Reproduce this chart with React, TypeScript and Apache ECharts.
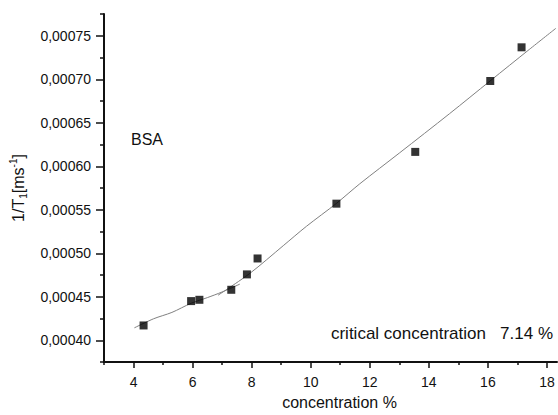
import React, { useEffect, useRef } from "react";
import * as echarts from "echarts";

// Measured points
const concentration = [4.34, 5.95, 6.23, 7.31, 7.84, 8.2, 10.87, 13.54, 16.08, 17.14];
const invT1 = [0.000417, 0.000445, 0.0004465, 0.000458, 0.0004757, 0.000494, 0.000557, 0.0006165, 0.000698, 0.0007367];

// Fit curve below the critical concentration
const fitLowX = [4.03, 4.68, 5.3, 5.95, 6.5, 7.0, 7.6];
const fitLowY = [0.0004143, 0.0004247, 0.000432, 0.0004425, 0.000449, 0.0004555, 0.0004645];

// Fit curve above the critical concentration
const fitHighX = [6.86, 7.94, 9.07, 9.86, 10.87, 11.66, 13.01, 14.7, 16.08, 17.4, 18.3];
const fitHighY = [0.0004517, 0.0004769, 0.0005087, 0.0005311, 0.0005573, 0.0005798, 0.0006154, 0.0006604, 0.0006982, 0.0007342, 0.0007585];

// Ticks
const xMajorTicks = [4, 6, 8, 10, 12, 14, 16, 18];
const xMinorTicks = [3, 5, 7, 9, 11, 13, 15, 17];
const yMajorTicks = [0.0004, 0.00045, 0.0005, 0.00055, 0.0006, 0.00065, 0.0007, 0.00075];
const yMinorTicks = [0.000375, 0.000425, 0.000475, 0.000525, 0.000575, 0.000625, 0.000675, 0.000725, 0.000775];

const FONT = "'Liberation Sans', Arial, sans-serif";
const INK = "#111111";

export default function App() {
  const ref = useRef<HTMLDivElement>(null);
  useEffect(() => {
    if (!ref.current) return;
    const chart = echarts.init(ref.current, null, { renderer: "svg" });
    const zip = (xs: number[], ys: number[]) => xs.map((x, i) => [x, ys[i]]);
    const xCommon = {
      type: "value" as const,
      min: 3,
      max: 18.34,
      position: "bottom" as const,
      gridIndex: 0,
      splitLine: { show: false },
    };
    const yCommon = {
      type: "value" as const,
      min: 0.000375,
      max: 0.000775,
      position: "left" as const,
      gridIndex: 0,
      splitLine: { show: false },
    };
    chart.setOption({
      animation: false,
      backgroundColor: "#ffffff",
      grid: { left: 104, top: 14, right: 1, bottom: 45, containLabel: false },
      xAxis: [
        {
          ...xCommon,
          axisLine: { show: true, lineStyle: { color: INK, width: 2 } },
          axisTick: { show: true, customValues: xMajorTicks, length: 6, lineStyle: { color: INK, width: 1.5 } },
          axisLabel: {
            show: true,
            customValues: xMajorTicks,
            margin: 13,
            fontSize: 14,
            fontFamily: FONT,
            color: INK,
            formatter: (v: number) => String(v),
          },
          name: "concentration %",
          nameLocation: "middle",
          nameGap: 32,
          nameTextStyle: { fontSize: 16, fontFamily: FONT, color: INK, padding: [0, 0, 0, 18] },
        },
        {
          ...xCommon,
          axisLine: { show: false },
          axisTick: { show: true, customValues: xMinorTicks, length: 3, lineStyle: { color: INK, width: 1.5 } },
          axisLabel: { show: false },
        },
      ],
      yAxis: [
        {
          ...yCommon,
          axisLine: { show: true, lineStyle: { color: INK, width: 2 } },
          axisTick: { show: true, customValues: yMajorTicks, length: 8, lineStyle: { color: INK, width: 1.5 } },
          axisLabel: {
            show: true,
            customValues: yMajorTicks,
            margin: 13,
            fontSize: 14,
            fontFamily: FONT,
            color: INK,
            formatter: (v: number) => v.toFixed(5).replace(".", ","),
          },
          name: "1/T{sub|1}[ms{sup|-1}]",
          nameLocation: "middle",
          nameGap: 76,
          nameRotate: 90,
          nameTextStyle: {
            fontSize: 16,
            fontFamily: FONT,
            color: INK,
            lineHeight: 20,
            rich: {
              sub: { fontSize: 10, fontFamily: FONT, color: INK, padding: [10, 0, 0, 0], lineHeight: 10 },
              sup: { fontSize: 10, fontFamily: FONT, color: INK, padding: [0, 0, 10, 0], lineHeight: 10 },
            },
          },
        },
        {
          ...yCommon,
          axisLine: { show: false },
          axisTick: { show: true, customValues: yMinorTicks, length: 4, lineStyle: { color: INK, width: 1.5 } },
          axisLabel: { show: false },
        },
      ],
      graphic: [
        {
          type: "text",
          left: 131,
          top: 131,
          style: { text: "BSA", fontSize: 16, fontFamily: FONT, fill: INK },
        },
        {
          type: "text",
          right: 5,
          top: 325,
          style: { text: "critical concentration   7.14 %", fontSize: 17, fontFamily: FONT, fill: INK },
        },
      ],
      series: [
        {
          type: "line",
          xAxisIndex: 0,
          yAxisIndex: 0,
          data: zip(fitLowX, fitLowY),
          smooth: 0.3,
          showSymbol: false,
          symbol: "none",
          lineStyle: { color: "#808080", width: 1 },
          z: 2,
        },
        {
          type: "line",
          xAxisIndex: 0,
          yAxisIndex: 0,
          data: zip(fitHighX, fitHighY),
          smooth: 0.3,
          showSymbol: false,
          symbol: "none",
          lineStyle: { color: "#808080", width: 1 },
          z: 2,
        },
        {
          type: "scatter",
          xAxisIndex: 0,
          yAxisIndex: 0,
          data: zip(concentration, invT1),
          symbol: "rect",
          symbolSize: 8,
          itemStyle: { color: "#000000" },
          z: 3,
        },
      ],
    });
    return () => chart.dispose();
  }, []);
  return <div ref={ref} style={{ width: 558, height: 415, position: "absolute", left: 0, top: 0 }} />;
}
